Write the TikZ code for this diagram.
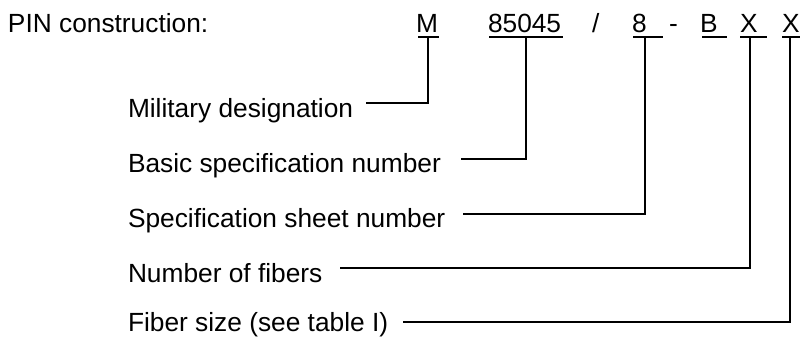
\documentclass[tikz,border=0pt]{standalone}
\usepackage{fontspec}
\setmainfont{Liberation Sans}
\begin{document}
\begin{tikzpicture}[x=1pt,y=-1pt,
  txt/.style={inner sep=0pt, outer sep=0pt, anchor=base west, font=\fontsize{26.3}{30}\selectfont},
  conn/.style={line width=1.5pt, line cap=rect},
  uline/.style={line width=1.3pt}]
\useasboundingbox (0,0) rectangle (800,337);
% header
\node[txt] (pin) at (8,33) {PIN construction:};
\node[txt] (m) at (416,33) {M};
\node[txt] (num) at (488,33) {85045};
\node[txt] (slash) at (592,33) {/};
\node[txt] (sheet) at (632,33) {8};
\node[txt] (dash) at (669,33) {-};
\node[txt] (b) at (700,33) {B};
\node[txt] (x1) at (740,33) {X};
\node[txt] (x2) at (782,33) {X};
% underlines
\draw[uline] (418,37) -- (439,37);
\draw[uline] (489,37) -- (563,37);
\draw[uline] (633,37) -- (663,37);
\draw[uline] (702,37) -- (727,37);
\draw[uline] (740,37) -- (767,37);
\draw[uline] (782,37) -- (800,37);
% labels
\node[txt] (l1) at (128,117) {Military designation};
\node[txt] (l2) at (128,172) {Basic specification number};
\node[txt] (l3) at (128,227) {Specification sheet number};
\node[txt] (l4) at (128,282) {Number of fibers};
\node[txt] (l5) at (128,331) {Fiber size (see table I)};
% connector anchor points
\coordinate (u1) at (428,37);
\coordinate (u2) at (526,37);
\coordinate (u3) at (645,37);
\coordinate (u4) at (750,37);
\coordinate (u5) at (790,37);
\coordinate (e1) at (367,103);
\coordinate (e2) at (462,159);
\coordinate (e3) at (464,214);
\coordinate (e4) at (341,268);
\coordinate (e5) at (404,322);
\draw[conn] (u1) |- (e1);
\draw[conn] (u2) |- (e2);
\draw[conn] (u3) |- (e3);
\draw[conn] (u4) |- (e4);
\draw[conn] (u5) |- (e5);
\end{tikzpicture}
\end{document}
